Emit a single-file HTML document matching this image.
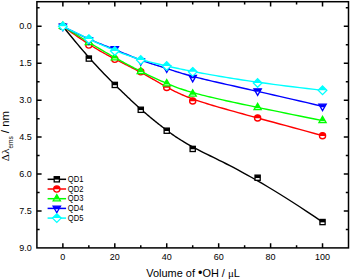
<!DOCTYPE html>
<html><head><meta charset="utf-8"><title>chart</title>
<style>html,body{margin:0;padding:0;background:#fff;}svg{display:block;}text{font-family:"Liberation Sans",Arial,sans-serif;fill:#000;}</style></head><body>
<svg width="350" height="280" viewBox="0 0 350 280">
<rect width="350" height="280" fill="#fff"/>
<path d="M62.87,26.32 L66.05,30.25 L69.09,34.00 L72.02,37.55 L74.82,40.93 L77.50,44.14 L80.08,47.19 L82.54,50.08 L84.91,52.83 L87.17,55.43 L89.35,57.90 L91.43,60.24 L93.43,62.47 L95.35,64.58 L97.20,66.59 L98.98,68.50 L100.69,70.31 L102.35,72.05 L103.95,73.71 L105.49,75.30 L107.00,76.83 L108.46,78.30 L109.88,79.73 L111.27,81.12 L112.64,82.47 L113.98,83.80 L115.30,85.11 L116.60,86.39 L117.88,87.64 L119.14,88.88 L120.38,90.09 L121.60,91.28 L122.81,92.46 L124.01,93.61 L125.19,94.74 L126.36,95.86 L127.51,96.96 L128.66,98.05 L129.79,99.11 L130.92,100.17 L132.03,101.21 L133.14,102.24 L134.24,103.25 L135.34,104.25 L136.43,105.25 L137.52,106.23 L138.60,107.20 L139.68,108.17 L140.77,109.13 L141.85,110.08 L142.93,111.02 L144.01,111.96 L145.09,112.89 L146.18,113.81 L147.26,114.73 L148.34,115.64 L149.42,116.55 L150.50,117.45 L151.59,118.34 L152.67,119.23 L153.75,120.11 L154.83,120.98 L155.91,121.85 L157.00,122.72 L158.08,123.58 L159.16,124.43 L160.24,125.28 L161.32,126.12 L162.41,126.96 L163.49,127.79 L164.57,128.62 L165.65,129.44 L166.73,130.26 L167.82,131.07 L168.90,131.88 L170.00,132.69 L171.12,133.50 L172.25,134.32 L173.41,135.14 L174.60,135.97 L175.83,136.80 L177.10,137.65 L178.41,138.51 L179.78,139.39 L181.20,140.28 L182.69,141.20 L184.24,142.13 L185.87,143.09 L187.57,144.07 L189.36,145.08 L191.23,146.12 L193.20,147.19 L195.26,148.30 L197.43,149.44 L199.70,150.62 L202.09,151.83 L204.60,153.09 L207.23,154.40 L210.00,155.75 L212.91,157.18 L215.97,158.68 L219.19,160.27 L222.57,161.95 L226.14,163.75 L229.89,165.67 L233.83,167.72 L237.98,169.92 L242.35,172.27 L246.93,174.79 L251.75,177.49 L256.81,180.37 L262.11,183.46 L267.67,186.75 L273.50,190.27 L279.61,194.02 L286.00,198.01 L292.68,202.26 L299.67,206.78 L306.97,211.58 L314.59,216.66 L322.53,222.05" fill="none" stroke="#000000" stroke-width="1.4" stroke-linejoin="round"/>
<rect x="60.27" y="23.72" width="5.20" height="5.20" fill="#fff" stroke="#000000" stroke-width="1.3"/>
<rect x="60.27" y="23.72" width="5.20" height="2.90" fill="#000000"/>
<rect x="86.23" y="55.97" width="5.20" height="5.20" fill="#fff" stroke="#000000" stroke-width="1.3"/>
<rect x="86.23" y="55.97" width="5.20" height="2.90" fill="#000000"/>
<rect x="112.20" y="82.32" width="5.20" height="5.20" fill="#fff" stroke="#000000" stroke-width="1.3"/>
<rect x="112.20" y="82.32" width="5.20" height="2.90" fill="#000000"/>
<rect x="138.17" y="107.18" width="5.20" height="5.20" fill="#fff" stroke="#000000" stroke-width="1.3"/>
<rect x="138.17" y="107.18" width="5.20" height="2.90" fill="#000000"/>
<rect x="164.13" y="128.11" width="5.20" height="5.20" fill="#fff" stroke="#000000" stroke-width="1.3"/>
<rect x="164.13" y="128.11" width="5.20" height="2.90" fill="#000000"/>
<rect x="190.10" y="146.33" width="5.20" height="5.20" fill="#fff" stroke="#000000" stroke-width="1.3"/>
<rect x="190.10" y="146.33" width="5.20" height="2.90" fill="#000000"/>
<rect x="255.02" y="175.13" width="5.20" height="5.20" fill="#fff" stroke="#000000" stroke-width="1.3"/>
<rect x="255.02" y="175.13" width="5.20" height="2.90" fill="#000000"/>
<rect x="319.93" y="219.45" width="5.20" height="5.20" fill="#fff" stroke="#000000" stroke-width="1.3"/>
<rect x="319.93" y="219.45" width="5.20" height="2.90" fill="#000000"/>
<path d="M62.87,26.32 L66.05,28.60 L69.09,30.76 L72.02,32.81 L74.82,34.76 L77.50,36.60 L80.08,38.34 L82.54,39.99 L84.91,41.55 L87.17,43.02 L89.35,44.41 L91.43,45.73 L93.43,46.97 L95.35,48.14 L97.20,49.26 L98.98,50.31 L100.69,51.30 L102.35,52.25 L103.95,53.15 L105.49,54.01 L107.00,54.83 L108.46,55.62 L109.88,56.38 L111.27,57.12 L112.64,57.83 L113.98,58.53 L115.30,59.22 L116.60,59.89 L117.88,60.55 L119.14,61.20 L120.38,61.83 L121.60,62.46 L122.81,63.08 L124.01,63.68 L125.19,64.28 L126.36,64.88 L127.51,65.47 L128.66,66.05 L129.79,66.63 L130.92,67.20 L132.03,67.77 L133.14,68.34 L134.24,68.91 L135.34,69.48 L136.43,70.05 L137.52,70.62 L138.60,71.20 L139.68,71.78 L140.77,72.36 L141.85,72.95 L142.93,73.54 L144.01,74.14 L145.09,74.74 L146.18,75.34 L147.26,75.95 L148.34,76.56 L149.42,77.17 L150.50,77.79 L151.59,78.40 L152.67,79.02 L153.75,79.64 L154.83,80.26 L155.91,80.89 L157.00,81.51 L158.08,82.13 L159.16,82.75 L160.24,83.37 L161.32,83.99 L162.41,84.60 L163.49,85.22 L164.57,85.83 L165.65,86.44 L166.73,87.05 L167.82,87.65 L168.90,88.25 L170.00,88.85 L171.12,89.45 L172.25,90.05 L173.41,90.66 L174.60,91.26 L175.83,91.87 L177.10,92.48 L178.41,93.10 L179.78,93.72 L181.20,94.36 L182.69,95.00 L184.24,95.65 L185.87,96.31 L187.57,96.98 L189.36,97.67 L191.23,98.37 L193.20,99.08 L195.26,99.81 L197.43,100.56 L199.70,101.32 L202.09,102.11 L204.60,102.91 L207.23,103.73 L210.00,104.58 L212.91,105.46 L215.97,106.36 L219.19,107.30 L222.57,108.27 L226.14,109.29 L229.89,110.34 L233.83,111.45 L237.98,112.60 L242.35,113.80 L246.93,115.06 L251.75,116.38 L256.81,117.76 L262.11,119.20 L267.67,120.72 L273.50,122.30 L279.61,123.96 L286.00,125.69 L292.68,127.51 L299.67,129.40 L306.97,131.39 L314.59,133.46 L322.53,135.63" fill="none" stroke="#ff0000" stroke-width="1.4" stroke-linejoin="round"/>
<circle cx="62.87" cy="26.32" r="3.10" fill="#fff" stroke="#ff0000" stroke-width="1.3"/>
<path d="M59.77,26.32 A3.10,3.10 0 0 1 65.97,26.32 L65.97,26.62 L59.77,26.62 Z" fill="#ff0000"/>
<circle cx="88.83" cy="45.03" r="3.10" fill="#fff" stroke="#ff0000" stroke-width="1.3"/>
<path d="M85.73,45.03 A3.10,3.10 0 0 1 91.93,45.03 L91.93,45.33 L85.73,45.33 Z" fill="#ff0000"/>
<circle cx="114.80" cy="59.31" r="3.10" fill="#fff" stroke="#ff0000" stroke-width="1.3"/>
<path d="M111.70,59.31 A3.10,3.10 0 0 1 117.90,59.31 L117.90,59.61 L111.70,59.61 Z" fill="#ff0000"/>
<circle cx="140.77" cy="71.87" r="3.10" fill="#fff" stroke="#ff0000" stroke-width="1.3"/>
<path d="M137.67,71.87 A3.10,3.10 0 0 1 143.87,71.87 L143.87,72.17 L137.67,72.17 Z" fill="#ff0000"/>
<circle cx="166.73" cy="87.38" r="3.10" fill="#fff" stroke="#ff0000" stroke-width="1.3"/>
<path d="M163.63,87.38 A3.10,3.10 0 0 1 169.83,87.38 L169.83,87.68 L163.63,87.68 Z" fill="#ff0000"/>
<circle cx="192.70" cy="100.92" r="3.10" fill="#fff" stroke="#ff0000" stroke-width="1.3"/>
<path d="M189.60,100.92 A3.10,3.10 0 0 1 195.80,100.92 L195.80,101.22 L189.60,101.22 Z" fill="#ff0000"/>
<circle cx="257.62" cy="117.91" r="3.10" fill="#fff" stroke="#ff0000" stroke-width="1.3"/>
<path d="M254.52,117.91 A3.10,3.10 0 0 1 260.72,117.91 L260.72,118.21 L254.52,118.21 Z" fill="#ff0000"/>
<circle cx="322.53" cy="135.63" r="3.10" fill="#fff" stroke="#ff0000" stroke-width="1.3"/>
<path d="M319.43,135.63 A3.10,3.10 0 0 1 325.63,135.63 L325.63,135.93 L319.43,135.93 Z" fill="#ff0000"/>
<path d="M62.87,26.32 L66.05,28.31 L69.09,30.21 L72.02,32.02 L74.82,33.76 L77.50,35.42 L80.08,37.00 L82.54,38.52 L84.91,39.96 L87.17,41.34 L89.35,42.66 L91.43,43.92 L93.43,45.12 L95.35,46.27 L97.20,47.37 L98.98,48.42 L100.69,49.43 L102.35,50.40 L103.95,51.33 L105.49,52.23 L107.00,53.10 L108.46,53.94 L109.88,54.75 L111.27,55.54 L112.64,56.32 L113.98,57.07 L115.30,57.81 L116.60,58.54 L117.88,59.25 L119.14,59.95 L120.38,60.64 L121.60,61.31 L122.81,61.97 L124.01,62.62 L125.19,63.26 L126.36,63.88 L127.51,64.50 L128.66,65.11 L129.79,65.71 L130.92,66.30 L132.03,66.88 L133.14,67.46 L134.24,68.03 L135.34,68.59 L136.43,69.15 L137.52,69.70 L138.60,70.25 L139.68,70.79 L140.77,71.33 L141.85,71.87 L142.93,72.40 L144.01,72.94 L145.09,73.46 L146.18,73.99 L147.26,74.51 L148.34,75.03 L149.42,75.55 L150.50,76.06 L151.59,76.57 L152.67,77.08 L153.75,77.58 L154.83,78.08 L155.91,78.58 L157.00,79.08 L158.08,79.57 L159.16,80.06 L160.24,80.54 L161.32,81.03 L162.41,81.51 L163.49,81.98 L164.57,82.46 L165.65,82.93 L166.73,83.40 L167.82,83.86 L168.90,84.33 L170.00,84.79 L171.12,85.25 L172.25,85.71 L173.41,86.17 L174.60,86.64 L175.83,87.11 L177.10,87.58 L178.41,88.06 L179.78,88.54 L181.20,89.03 L182.69,89.52 L184.24,90.03 L185.87,90.54 L187.57,91.06 L189.36,91.59 L191.23,92.14 L193.20,92.69 L195.26,93.26 L197.43,93.85 L199.70,94.44 L202.09,95.06 L204.60,95.69 L207.23,96.33 L210.00,97.00 L212.91,97.69 L215.97,98.40 L219.19,99.14 L222.57,99.90 L226.14,100.70 L229.89,101.52 L233.83,102.38 L237.98,103.27 L242.35,104.20 L246.93,105.17 L251.75,106.18 L256.81,107.24 L262.11,108.34 L267.67,109.49 L273.50,110.68 L279.61,111.93 L286.00,113.23 L292.68,114.59 L299.67,116.01 L306.97,117.48 L314.59,119.02 L322.53,120.61" fill="none" stroke="#00ff00" stroke-width="1.4" stroke-linejoin="round"/>
<path d="M62.87,22.12 L66.47,28.42 L59.27,28.42 Z" fill="#fff" stroke="#00ff00" stroke-width="1.3" stroke-linejoin="miter"/>
<path d="M62.87,22.12 L65.67,27.02 L60.07,27.02 Z" fill="#00ff00"/>
<path d="M88.83,38.37 L92.43,44.67 L85.23,44.67 Z" fill="#fff" stroke="#00ff00" stroke-width="1.3" stroke-linejoin="miter"/>
<path d="M88.83,38.37 L91.63,43.27 L86.03,43.27 Z" fill="#00ff00"/>
<path d="M114.80,53.63 L118.40,59.93 L111.20,59.93 Z" fill="#fff" stroke="#00ff00" stroke-width="1.3" stroke-linejoin="miter"/>
<path d="M114.80,53.63 L117.60,58.53 L112.00,58.53 Z" fill="#00ff00"/>
<path d="M140.77,67.42 L144.37,73.72 L137.17,73.72 Z" fill="#fff" stroke="#00ff00" stroke-width="1.3" stroke-linejoin="miter"/>
<path d="M140.77,67.42 L143.57,72.32 L137.97,72.32 Z" fill="#00ff00"/>
<path d="M166.73,79.48 L170.33,85.78 L163.13,85.78 Z" fill="#fff" stroke="#00ff00" stroke-width="1.3" stroke-linejoin="miter"/>
<path d="M166.73,79.48 L169.53,84.38 L163.93,84.38 Z" fill="#00ff00"/>
<path d="M192.70,89.83 L196.30,96.13 L189.10,96.13 Z" fill="#fff" stroke="#00ff00" stroke-width="1.3" stroke-linejoin="miter"/>
<path d="M192.70,89.83 L195.50,94.73 L189.90,94.73 Z" fill="#00ff00"/>
<path d="M257.62,103.37 L261.22,109.67 L254.02,109.67 Z" fill="#fff" stroke="#00ff00" stroke-width="1.3" stroke-linejoin="miter"/>
<path d="M257.62,103.37 L260.42,108.27 L254.82,108.27 Z" fill="#00ff00"/>
<path d="M322.53,116.41 L326.13,122.71 L318.93,122.71 Z" fill="#fff" stroke="#00ff00" stroke-width="1.3" stroke-linejoin="miter"/>
<path d="M322.53,116.41 L325.33,121.31 L319.73,121.31 Z" fill="#00ff00"/>
<path d="M62.87,26.32 L66.05,27.97 L69.09,29.52 L72.02,30.99 L74.82,32.38 L77.50,33.69 L80.08,34.93 L82.54,36.09 L84.91,37.19 L87.17,38.22 L89.35,39.19 L91.43,40.11 L93.43,40.98 L95.35,41.79 L97.20,42.57 L98.98,43.30 L100.69,43.99 L102.35,44.65 L103.95,45.28 L105.49,45.89 L107.00,46.47 L108.46,47.04 L109.88,47.59 L111.27,48.13 L112.64,48.66 L113.98,49.19 L115.30,49.72 L116.60,50.24 L117.88,50.76 L119.14,51.27 L120.38,51.78 L121.60,52.29 L122.81,52.79 L124.01,53.29 L125.19,53.78 L126.36,54.27 L127.51,54.75 L128.66,55.22 L129.79,55.70 L130.92,56.16 L132.03,56.62 L133.14,57.07 L134.24,57.52 L135.34,57.96 L136.43,58.39 L137.52,58.82 L138.60,59.23 L139.68,59.65 L140.77,60.05 L141.85,60.45 L142.93,60.83 L144.01,61.22 L145.09,61.59 L146.18,61.96 L147.26,62.33 L148.34,62.69 L149.42,63.04 L150.50,63.39 L151.59,63.74 L152.67,64.09 L153.75,64.43 L154.83,64.77 L155.91,65.11 L157.00,65.45 L158.08,65.78 L159.16,66.12 L160.24,66.45 L161.32,66.79 L162.41,67.13 L163.49,67.47 L164.57,67.81 L165.65,68.16 L166.73,68.50 L167.82,68.85 L168.90,69.21 L170.00,69.57 L171.12,69.93 L172.25,70.30 L173.41,70.68 L174.60,71.06 L175.83,71.46 L177.10,71.86 L178.41,72.27 L179.78,72.69 L181.20,73.12 L182.69,73.56 L184.24,74.02 L185.87,74.48 L187.57,74.96 L189.36,75.46 L191.23,75.97 L193.20,76.49 L195.26,77.03 L197.43,77.58 L199.70,78.16 L202.09,78.75 L204.60,79.36 L207.23,79.98 L210.00,80.63 L212.91,81.31 L215.97,82.01 L219.19,82.74 L222.57,83.51 L226.14,84.31 L229.89,85.16 L233.83,86.04 L237.98,86.97 L242.35,87.95 L246.93,88.98 L251.75,90.06 L256.81,91.20 L262.11,92.39 L267.67,93.65 L273.50,94.98 L279.61,96.38 L286.00,97.84 L292.68,99.38 L299.67,101.00 L306.97,102.69 L314.59,104.47 L322.53,106.34" fill="none" stroke="#0000ff" stroke-width="1.4" stroke-linejoin="round"/>
<path d="M59.17,24.12 L66.57,24.12 L62.87,30.62 Z" fill="#fff" stroke="#0000ff" stroke-width="1.3" stroke-linejoin="miter"/>
<path d="M59.17,24.12 L66.57,24.12 L64.86,27.12 L60.87,27.12 Z" fill="#0000ff"/>
<path d="M85.13,37.66 L92.53,37.66 L88.83,44.16 Z" fill="#fff" stroke="#0000ff" stroke-width="1.3" stroke-linejoin="miter"/>
<path d="M85.13,37.66 L92.53,37.66 L90.83,40.66 L86.84,40.66 Z" fill="#0000ff"/>
<path d="M111.10,46.77 L118.50,46.77 L114.80,53.27 Z" fill="#fff" stroke="#0000ff" stroke-width="1.3" stroke-linejoin="miter"/>
<path d="M111.10,46.77 L118.50,46.77 L116.79,49.77 L112.81,49.77 Z" fill="#0000ff"/>
<path d="M137.07,58.59 L144.47,58.59 L140.77,65.09 Z" fill="#fff" stroke="#0000ff" stroke-width="1.3" stroke-linejoin="miter"/>
<path d="M137.07,58.59 L144.47,58.59 L142.76,61.59 L138.77,61.59 Z" fill="#0000ff"/>
<path d="M163.03,65.97 L170.43,65.97 L166.73,72.47 Z" fill="#fff" stroke="#0000ff" stroke-width="1.3" stroke-linejoin="miter"/>
<path d="M163.03,65.97 L170.43,65.97 L168.73,68.97 L164.74,68.97 Z" fill="#0000ff"/>
<path d="M189.00,75.33 L196.40,75.33 L192.70,81.83 Z" fill="#fff" stroke="#0000ff" stroke-width="1.3" stroke-linejoin="miter"/>
<path d="M189.00,75.33 L196.40,75.33 L194.69,78.33 L190.71,78.33 Z" fill="#0000ff"/>
<path d="M253.92,88.87 L261.32,88.87 L257.62,95.37 Z" fill="#fff" stroke="#0000ff" stroke-width="1.3" stroke-linejoin="miter"/>
<path d="M253.92,88.87 L261.32,88.87 L259.61,91.87 L255.62,91.87 Z" fill="#0000ff"/>
<path d="M318.83,104.14 L326.23,104.14 L322.53,110.64 Z" fill="#fff" stroke="#0000ff" stroke-width="1.3" stroke-linejoin="miter"/>
<path d="M318.83,104.14 L326.23,104.14 L324.53,107.14 L320.54,107.14 Z" fill="#0000ff"/>
<path d="M62.87,26.32 L66.05,27.88 L69.09,29.38 L72.02,30.81 L74.82,32.17 L77.50,33.47 L80.08,34.71 L82.54,35.90 L84.91,37.03 L87.17,38.10 L89.35,39.13 L91.43,40.10 L93.43,41.04 L95.35,41.92 L97.20,42.77 L98.98,43.58 L100.69,44.35 L102.35,45.09 L103.95,45.79 L105.49,46.47 L107.00,47.12 L108.46,47.75 L109.88,48.35 L111.27,48.94 L112.64,49.50 L113.98,50.06 L115.30,50.59 L116.60,51.12 L117.88,51.62 L119.14,52.12 L120.38,52.60 L121.60,53.07 L122.81,53.53 L124.01,53.98 L125.19,54.41 L126.36,54.84 L127.51,55.25 L128.66,55.65 L129.79,56.04 L130.92,56.43 L132.03,56.80 L133.14,57.17 L134.24,57.52 L135.34,57.87 L136.43,58.22 L137.52,58.55 L138.60,58.88 L139.68,59.20 L140.77,59.52 L141.85,59.83 L142.93,60.13 L144.01,60.43 L145.09,60.73 L146.18,61.02 L147.26,61.30 L148.34,61.58 L149.42,61.86 L150.50,62.13 L151.59,62.41 L152.67,62.67 L153.75,62.94 L154.83,63.20 L155.91,63.46 L157.00,63.71 L158.08,63.97 L159.16,64.22 L160.24,64.47 L161.32,64.72 L162.41,64.97 L163.49,65.22 L164.57,65.47 L165.65,65.71 L166.73,65.96 L167.82,66.20 L168.90,66.45 L170.00,66.70 L171.12,66.95 L172.25,67.21 L173.41,67.46 L174.60,67.73 L175.83,67.99 L177.10,68.27 L178.41,68.55 L179.78,68.84 L181.20,69.14 L182.69,69.44 L184.24,69.76 L185.87,70.09 L187.57,70.43 L189.36,70.78 L191.23,71.14 L193.20,71.52 L195.26,71.92 L197.43,72.32 L199.70,72.75 L202.09,73.19 L204.60,73.65 L207.23,74.13 L210.00,74.63 L212.91,75.14 L215.97,75.68 L219.19,76.23 L222.57,76.80 L226.14,77.39 L229.89,78.00 L233.83,78.63 L237.98,79.28 L242.35,79.95 L246.93,80.63 L251.75,81.33 L256.81,82.06 L262.11,82.80 L267.67,83.56 L273.50,84.34 L279.61,85.14 L286.00,85.96 L292.68,86.79 L299.67,87.65 L306.97,88.52 L314.59,89.42 L322.53,90.33" fill="none" stroke="#00ffff" stroke-width="1.4" stroke-linejoin="round"/>
<path d="M62.87,22.02 L67.17,26.32 L62.87,30.62 L58.57,26.32 Z" fill="#fff" stroke="#00ffff" stroke-width="1.3"/>
<path d="M62.87,22.02 L67.17,26.32 L58.57,26.32 Z" fill="#00ffff"/>
<path d="M88.83,34.82 L93.13,39.12 L88.83,43.42 L84.53,39.12 Z" fill="#fff" stroke="#00ffff" stroke-width="1.3"/>
<path d="M88.83,34.82 L93.13,39.12 L84.53,39.12 Z" fill="#00ffff"/>
<path d="M114.80,46.64 L119.10,50.94 L114.80,55.24 L110.50,50.94 Z" fill="#fff" stroke="#00ffff" stroke-width="1.3"/>
<path d="M114.80,46.64 L119.10,50.94 L110.50,50.94 Z" fill="#00ffff"/>
<path d="M140.77,55.75 L145.07,60.05 L140.77,64.35 L136.47,60.05 Z" fill="#fff" stroke="#00ffff" stroke-width="1.3"/>
<path d="M140.77,55.75 L145.07,60.05 L136.47,60.05 Z" fill="#00ffff"/>
<path d="M166.73,61.66 L171.03,65.96 L166.73,70.26 L162.43,65.96 Z" fill="#fff" stroke="#00ffff" stroke-width="1.3"/>
<path d="M166.73,61.66 L171.03,65.96 L162.43,65.96 Z" fill="#00ffff"/>
<path d="M192.70,67.57 L197.00,71.87 L192.70,76.17 L188.40,71.87 Z" fill="#fff" stroke="#00ffff" stroke-width="1.3"/>
<path d="M192.70,67.57 L197.00,71.87 L188.40,71.87 Z" fill="#00ffff"/>
<path d="M257.62,78.65 L261.92,82.95 L257.62,87.25 L253.32,82.95 Z" fill="#fff" stroke="#00ffff" stroke-width="1.3"/>
<path d="M257.62,78.65 L261.92,82.95 L253.32,82.95 Z" fill="#00ffff"/>
<path d="M322.53,86.03 L326.83,90.33 L322.53,94.63 L318.23,90.33 Z" fill="#fff" stroke="#00ffff" stroke-width="1.3"/>
<path d="M322.53,86.03 L326.83,90.33 L318.23,90.33 Z" fill="#00ffff"/>
<rect x="36.90" y="1.70" width="311.60" height="246.20" fill="none" stroke="#000" stroke-width="1.50"/>
<path d="M62.87,247.90 v-4.70 M62.87,1.70 v4.70 M88.83,247.90 v-2.70 M88.83,1.70 v2.70 M114.80,247.90 v-4.70 M114.80,1.70 v4.70 M140.77,247.90 v-2.70 M140.77,1.70 v2.70 M166.73,247.90 v-4.70 M166.73,1.70 v4.70 M192.70,247.90 v-2.70 M192.70,1.70 v2.70 M218.67,247.90 v-4.70 M218.67,1.70 v4.70 M244.63,247.90 v-2.70 M244.63,1.70 v2.70 M270.60,247.90 v-4.70 M270.60,1.70 v4.70 M296.57,247.90 v-2.70 M296.57,1.70 v2.70 M322.53,247.90 v-4.70 M322.53,1.70 v4.70 M36.90,7.86 h2.70 M348.50,7.86 h-2.70 M36.90,26.32 h4.70 M348.50,26.32 h-4.70 M36.90,44.79 h2.70 M348.50,44.79 h-2.70 M36.90,63.25 h4.70 M348.50,63.25 h-4.70 M36.90,81.72 h2.70 M348.50,81.72 h-2.70 M36.90,100.18 h4.70 M348.50,100.18 h-4.70 M36.90,118.65 h2.70 M348.50,118.65 h-2.70 M36.90,137.11 h4.70 M348.50,137.11 h-4.70 M36.90,155.57 h2.70 M348.50,155.57 h-2.70 M36.90,174.04 h4.70 M348.50,174.04 h-4.70 M36.90,192.50 h2.70 M348.50,192.50 h-2.70 M36.90,210.97 h4.70 M348.50,210.97 h-4.70 M36.90,229.44 h2.70 M348.50,229.44 h-2.70" fill="none" stroke="#000" stroke-width="1.50"/>
<text x="62.87" y="259.60" font-size="9.0" text-anchor="middle">0</text>
<text x="114.80" y="259.60" font-size="9.0" text-anchor="middle">20</text>
<text x="166.73" y="259.60" font-size="9.0" text-anchor="middle">40</text>
<text x="218.67" y="259.60" font-size="9.0" text-anchor="middle">60</text>
<text x="270.60" y="259.60" font-size="9.0" text-anchor="middle">80</text>
<text x="322.53" y="259.60" font-size="9.0" text-anchor="middle">100</text>
<text x="31.80" y="29.47" font-size="9.0" text-anchor="end">0.0</text>
<text x="31.80" y="66.40" font-size="9.0" text-anchor="end">1.5</text>
<text x="31.80" y="103.33" font-size="9.0" text-anchor="end">3.0</text>
<text x="31.80" y="140.26" font-size="9.0" text-anchor="end">4.5</text>
<text x="31.80" y="177.19" font-size="9.0" text-anchor="end">6.0</text>
<text x="31.80" y="214.12" font-size="9.0" text-anchor="end">7.5</text>
<text x="31.80" y="251.05" font-size="9.0" text-anchor="end">9.0</text>
<text x="193.1" y="276.8" font-size="10.95" text-anchor="middle">Volume of <tspan font-size="12.5" dy="0.5">•</tspan><tspan dy="-0.5">OH</tspan> / <tspan font-family="'Liberation Serif',serif">μ</tspan>L</text>
<text transform="translate(9.4,161.3) rotate(-90)" font-size="11.3"><tspan font-family="'Liberation Serif',serif">Δλ</tspan><tspan font-size="6.5" dy="3.1">ems</tspan><tspan dy="-3.1"> / nm</tspan></text>
<path d="M47.6,179.30 H66.1" stroke="#000000" stroke-width="1.5" fill="none"/>
<rect x="54.20" y="176.70" width="5.20" height="5.20" fill="#fff" stroke="#000000" stroke-width="1.3"/>
<rect x="54.20" y="176.70" width="5.20" height="2.90" fill="#000000"/>
<text x="67.8" y="182.05" font-size="8.5" textLength="15.6" lengthAdjust="spacingAndGlyphs">QD1</text>
<path d="M47.6,189.00 H66.1" stroke="#ff0000" stroke-width="1.5" fill="none"/>
<circle cx="56.80" cy="189.00" r="3.10" fill="#fff" stroke="#ff0000" stroke-width="1.3"/>
<path d="M53.70,189.00 A3.10,3.10 0 0 1 59.90,189.00 L59.90,189.30 L53.70,189.30 Z" fill="#ff0000"/>
<text x="67.8" y="191.75" font-size="8.5" textLength="15.6" lengthAdjust="spacingAndGlyphs">QD2</text>
<path d="M47.6,198.70 H66.1" stroke="#00ff00" stroke-width="1.5" fill="none"/>
<path d="M56.80,194.50 L60.40,200.80 L53.20,200.80 Z" fill="#fff" stroke="#00ff00" stroke-width="1.3" stroke-linejoin="miter"/>
<path d="M56.80,194.50 L59.60,199.40 L54.00,199.40 Z" fill="#00ff00"/>
<text x="67.8" y="201.45" font-size="8.5" textLength="15.6" lengthAdjust="spacingAndGlyphs">QD3</text>
<path d="M47.6,208.40 H66.1" stroke="#0000ff" stroke-width="1.5" fill="none"/>
<path d="M53.10,206.20 L60.50,206.20 L56.80,212.70 Z" fill="#fff" stroke="#0000ff" stroke-width="1.3" stroke-linejoin="miter"/>
<path d="M53.10,206.20 L60.50,206.20 L58.79,209.20 L54.81,209.20 Z" fill="#0000ff"/>
<text x="67.8" y="211.15" font-size="8.5" textLength="15.6" lengthAdjust="spacingAndGlyphs">QD4</text>
<path d="M47.6,218.10 H66.1" stroke="#00ffff" stroke-width="1.5" fill="none"/>
<path d="M56.80,213.80 L61.10,218.10 L56.80,222.40 L52.50,218.10 Z" fill="#fff" stroke="#00ffff" stroke-width="1.3"/>
<path d="M56.80,213.80 L61.10,218.10 L52.50,218.10 Z" fill="#00ffff"/>
<text x="67.8" y="220.85" font-size="8.5" textLength="15.6" lengthAdjust="spacingAndGlyphs">QD5</text>
</svg></body></html>
